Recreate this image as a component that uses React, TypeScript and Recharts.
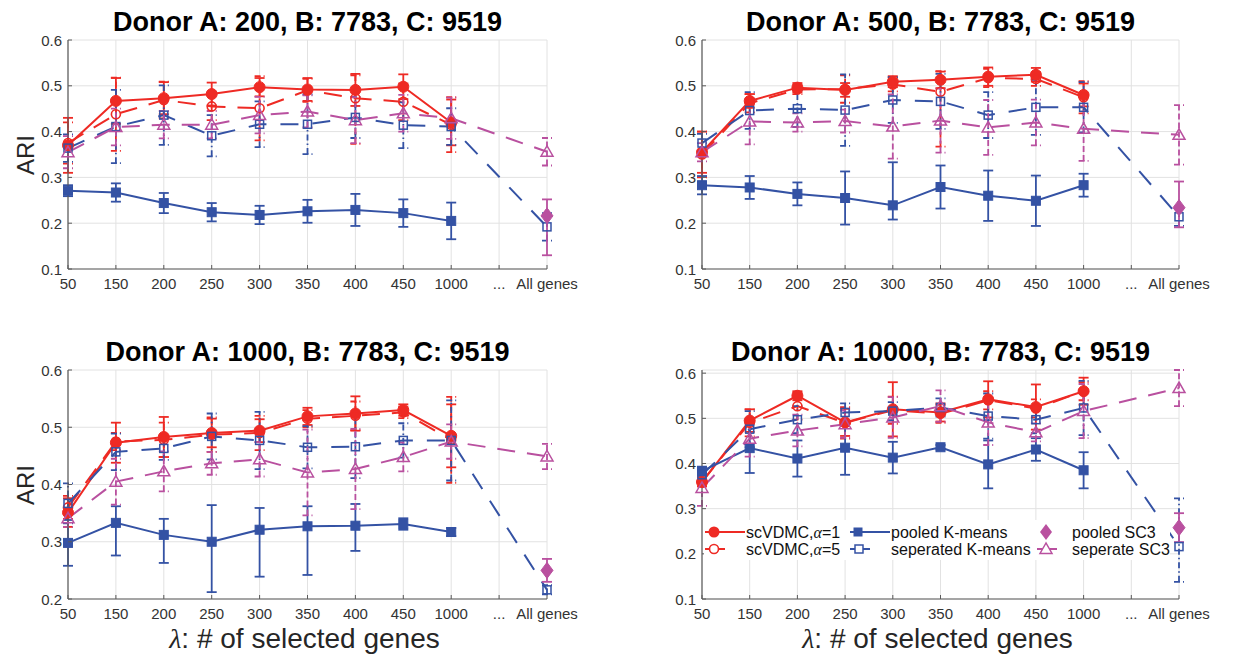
import React from "react";
import { ComposedChart, Line, XAxis, YAxis, CartesianGrid, ErrorBar } from "recharts";

const geneLabels = ["50", "150", "200", "250", "300", "350", "400", "450", "1000", "...", "All genes"];
const donorA = [200, 500, 1000, 10000];
const yTicksFull = [0.1, 0.2, 0.3, 0.4, 0.5, 0.6];
const yTicksShort = [0.2, 0.3, 0.4, 0.5, 0.6];

type Err = number | [number, number] | null;

// one row per panel (Donor A = 200, 500, 1000, 10000); columns follow geneLabels
const scvdmc1: (number | null)[][] = [
  [0.37, 0.467, 0.473, 0.482, 0.497, 0.492, 0.491, 0.498, 0.42],
  [0.355, 0.467, 0.496, 0.491, 0.509, 0.513, 0.52, 0.524, 0.48],
  [0.351, 0.473, 0.483, 0.49, 0.494, 0.519, 0.524, 0.53, 0.485],
  [0.359, 0.495, 0.55, 0.491, 0.52, 0.513, 0.542, 0.525, 0.56],
];
const scvdmc1Err: Err[][] = [
  [0.06, 0.05, 0.035, 0.025, 0.02, 0.025, 0.035, 0.027, 0.05],
  [0.045, 0.015, 0.01, 0.015, 0.012, 0.018, 0.02, 0.015, 0.025],
  [0.025, 0.035, 0.035, 0.025, 0.02, 0.015, 0.03, 0.01, 0.055],
  [0.01, 0.025, 0.01, 0.03, 0.06, 0.02, 0.04, 0.05, 0.03],
];
const scvdmc5: (number | null)[][] = [
  [0.375, 0.438, 0.469, 0.455, 0.451, 0.49, 0.473, 0.465, 0.415],
  [0.35, 0.462, 0.492, 0.493, 0.503, 0.487, 0.517, 0.515, 0.475],
  [0.36, 0.475, 0.478, 0.487, 0.49, 0.515, 0.52, 0.526, 0.478],
  [0.36, 0.49, 0.527, 0.49, 0.518, 0.51, 0.54, 0.522, 0.56],
];
const scvdmc5Err: Err[][] = [
  [0.045, 0.08, 0.04, 0.03, 0.07, 0.025, [0.1, 0.05], 0.04, 0.06],
  [0.05, 0.02, 0.01, 0.03, 0.015, [0.12, 0.045], 0.02, 0.015, 0.035],
  [0.02, 0.015, 0.03, 0.03, 0.03, 0.015, 0.025, 0.01, 0.075],
  [0.01, 0.03, 0.03, 0.035, 0.03, 0.02, 0.02, 0.02, 0.02],
];
const pooledKm: (number | null)[][] = [
  [0.271, 0.267, 0.244, 0.224, 0.218, 0.226, 0.229, 0.222, 0.205],
  [0.283, 0.278, 0.264, 0.255, 0.239, 0.279, 0.26, 0.249, 0.283],
  [0.298, 0.333, 0.312, 0.3, 0.321, 0.327, 0.328, 0.331, 0.317],
  [0.383, 0.434, 0.411, 0.435, 0.413, 0.436, 0.398, 0.431, 0.385],
];
const pooledKmErr: Err[][] = [
  [0.012, 0.02, 0.022, 0.02, 0.02, 0.025, 0.035, 0.03, 0.04],
  [0.02, 0.025, 0.025, 0.058, [0.031, 0.094], 0.047, 0.055, 0.055, 0.025],
  [0.04, [0.057, 0.029], [0.049, 0.028], [0.088, 0.064], [0.082, 0.038], [0.085, 0.035], [0.044, 0.038], 0.01, 0.007],
  [0.01, 0.055, 0.04, 0.06, 0.035, 0.005, 0.053, 0.025, 0.04],
];
const sepKm: (number | null)[][] = [
  [0.364, 0.411, 0.436, 0.391, 0.416, 0.416, 0.431, 0.414, 0.411, null, 0.192],
  [0.375, 0.446, 0.45, 0.447, 0.469, 0.466, 0.436, 0.453, 0.453, null, 0.214],
  [0.367, 0.457, 0.463, 0.484, 0.477, 0.465, 0.466, 0.477, 0.477, null, 0.216],
  [0.375, 0.476, 0.497, 0.513, 0.516, 0.524, 0.505, 0.497, 0.523, null, 0.216],
];
const sepKmErr: Err[][] = [
  [0.03, 0.08, 0.065, 0.045, 0.05, 0.065, 0.045, 0.05, 0.04, null, 0.03],
  [0.02, 0.04, 0.04, 0.078, 0.05, 0.06, 0.05, 0.06, 0.055, null, 0.02],
  [0.035, 0.032, 0.02, 0.04, 0.05, 0.037, 0.055, 0.03, 0.07, null, 0.008],
  [0.015, 0.04, 0.03, 0.02, 0.02, 0.02, 0.05, 0.03, 0.06, null, [0.078, 0.107]],
];
const sepSc3: (number | null)[][] = [
  [0.355, 0.41, 0.415, 0.415, 0.436, 0.444, 0.425, 0.44, 0.429, null, 0.356],
  [0.355, 0.422, 0.42, 0.423, 0.411, 0.424, 0.409, 0.42, 0.406, null, 0.393],
  [0.341, 0.405, 0.423, 0.437, 0.444, 0.421, 0.427, 0.448, 0.475, null, 0.449],
  [0.346, 0.455, 0.473, 0.487, 0.502, 0.527, 0.491, 0.469, 0.516, null, 0.567],
];
const sepSc3Err: Err[][] = [
  [0.035, 0.04, 0.03, 0.03, 0.04, 0.035, 0.05, 0.04, 0.045, null, 0.03],
  [0.02, 0.05, 0.02, 0.025, 0.07, 0.07, 0.06, 0.05, 0.07, null, 0.065],
  [0.015, 0.04, 0.035, 0.02, 0.03, 0.075, 0.07, 0.025, 0.03, null, 0.022],
  [0.04, 0.04, 0.035, 0.03, 0.045, 0.035, 0.05, 0.02, 0.06, null, 0.04],
];
// pooled SC3 only has the "All genes" point
const pooledSc3 = [0.216, 0.234, 0.25, 0.258];
const pooledSc3Err: Err[] = [[0.086, 0.036], [0.043, 0.057], 0.02, 0.032];

const RED = "#ee2a24";
const BLUE = "#3452a4";
const MAG = "#b9509f";
const AXIS = "#5a5a5a";
const TICK = "#333";
const FONT = "'Liberation Sans', Arial, Helvetica, sans-serif";
const PLOT_TOP = 40;
const PLOT_BOTTOM = 269;

function buildRows(p: number) {
  return geneLabels.map((_, i) => ({
    i,
    a1: scvdmc1[p][i] ?? null,
    a1e: scvdmc1Err[p][i] ?? null,
    a5: scvdmc5[p][i] ?? null,
    a5e: scvdmc5Err[p][i] ?? null,
    pk: pooledKm[p][i] ?? null,
    pke: pooledKmErr[p][i] ?? null,
    sk: sepKm[p][i] ?? null,
    ske: sepKmErr[p][i] ?? null,
    ss: sepSc3[p][i] ?? null,
    sse: sepSc3Err[p][i] ?? null,
    ps: i === 10 ? pooledSc3[p] : null,
    pse: i === 10 ? pooledSc3Err[p] : null,
  }));
}

const hidden = (p: any) => p.cx == null || p.cy == null || p.value == null;

const filledCircle = (p: any) =>
  hidden(p) ? <g key={p.index} /> : <circle key={p.index} cx={p.cx} cy={p.cy} r={5.5} fill={RED} stroke={RED} />;
const openCircle = (p: any) =>
  hidden(p) ? <g key={p.index} /> : <circle key={p.index} cx={p.cx} cy={p.cy} r={4.5} fill="none" stroke={RED} strokeWidth={1.6} />;
const filledSquare = (p: any) =>
  hidden(p) ? <g key={p.index} /> : <rect key={p.index} x={p.cx - 4.5} y={p.cy - 4.5} width={9} height={9} fill={BLUE} stroke={BLUE} />;
const openSquare = (p: any) =>
  hidden(p) ? <g key={p.index} /> : <rect key={p.index} x={p.cx - 4} y={p.cy - 4} width={8} height={8} fill="none" stroke={BLUE} strokeWidth={1.5} />;
const openTriangle = (p: any) =>
  hidden(p) ? (
    <g key={p.index} />
  ) : (
    <polygon key={p.index} points={`${p.cx},${p.cy - 6} ${p.cx - 6},${p.cy + 4.5} ${p.cx + 6},${p.cy + 4.5}`} fill="none" stroke={MAG} strokeWidth={1.5} />
  );
const diamond = (p: any) =>
  hidden(p) ? (
    <g key={p.index} />
  ) : (
    <polygon key={p.index} points={`${p.cx},${p.cy - 8} ${p.cx + 6},${p.cy} ${p.cx},${p.cy + 8} ${p.cx - 6},${p.cy}`} fill={MAG} stroke={MAG} />
  );

function Panel({ p, left, top, width, plotLeft, plotRight }: any) {
  const rows = buildRows(p);
  const yTicks = p === 2 ? yTicksShort : yTicksFull;
  const xTick = (t: any) => (
    <g>
      <line x1={t.x} x2={t.x} y1={PLOT_BOTTOM} y2={PLOT_BOTTOM - 4} stroke={AXIS} />
      <text x={t.x} y={PLOT_BOTTOM + 20} textAnchor="middle" fontSize={15} fill={TICK} fontFamily={FONT}>
        {geneLabels[t.payload.value]}
      </text>
    </g>
  );
  const yTick = (t: any) => (
    <g>
      <line x1={plotLeft} x2={plotLeft + 4} y1={t.y} y2={t.y} stroke={AXIS} />
      <text x={plotLeft - 6} y={t.y + 5.5} textAnchor="end" fontSize={15} fill={TICK} fontFamily={FONT}>
        {Number(t.payload.value).toFixed(1)}
      </text>
    </g>
  );
  return (
    <div style={{ position: "absolute", left, top }}>
      <ComposedChart
        width={width}
        height={330}
        data={rows}
        margin={{ top: PLOT_TOP, right: width - plotRight, bottom: 330 - PLOT_BOTTOM - 30, left: 0 }}
      >
        <CartesianGrid stroke="#e2e2e2" strokeWidth={1} />
        <XAxis
          type="number"
          dataKey="i"
          domain={[0, 10]}
          ticks={[0, 1, 2, 3, 4, 5, 6, 7, 8, 9, 10]}
          interval={0}
          height={30}
          axisLine={{ stroke: AXIS, strokeWidth: 1.2 }}
          tickLine={false}
          tick={xTick}
        />
        <YAxis
          type="number"
          domain={[yTicks[0], 0.6]}
          ticks={yTicks}
          interval={0}
          width={plotLeft}
          axisLine={{ stroke: AXIS, strokeWidth: 1.2 }}
          tickLine={false}
          tick={yTick}
        />
        <Line dataKey="a1" stroke={RED} strokeWidth={2} dot={filledCircle} activeDot={false} isAnimationActive={false}>
          <ErrorBar dataKey="a1e" direction="y" width={5} stroke={RED} strokeWidth={1.8} />
        </Line>
        <Line dataKey="a5" stroke={RED} strokeWidth={2} strokeDasharray="18 12" dot={openCircle} activeDot={false} isAnimationActive={false}>
          <ErrorBar dataKey="a5e" direction="y" width={5} stroke={RED} strokeWidth={1.8} strokeDasharray="6 3" />
        </Line>
        <Line dataKey="pk" stroke={BLUE} strokeWidth={2} dot={filledSquare} activeDot={false} isAnimationActive={false}>
          <ErrorBar dataKey="pke" direction="y" width={5} stroke={BLUE} strokeWidth={1.8} />
        </Line>
        <Line dataKey="sk" stroke={BLUE} strokeWidth={2} strokeDasharray="18 14" connectNulls dot={openSquare} activeDot={false} isAnimationActive={false}>
          <ErrorBar dataKey="ske" direction="y" width={5} stroke={BLUE} strokeWidth={1.8} strokeDasharray="6 3 1.5 3" />
        </Line>
        <Line dataKey="ps" stroke="none" dot={diamond} activeDot={false} isAnimationActive={false}>
          <ErrorBar dataKey="pse" direction="y" width={5} stroke={MAG} strokeWidth={1.8} />
        </Line>
        <Line dataKey="ss" stroke={MAG} strokeWidth={2} strokeDasharray="18 12" connectNulls dot={openTriangle} activeDot={false} isAnimationActive={false}>
          <ErrorBar dataKey="sse" direction="y" width={5} stroke={MAG} strokeWidth={1.8} strokeDasharray="6 3" />
        </Line>
      </ComposedChart>
    </div>
  );
}

const alphaText = (v: number) => (
  <>
    scVDMC,
    <tspan fontFamily="'Liberation Serif', serif" fontStyle="italic">
      α
    </tspan>
    ={v}
  </>
);

function Legend() {
  const r1 = 532;
  const r2 = 549;
  return (
    <g fontFamily={FONT} fontSize={16} fill="#111">
      <rect x={704} y={520} width={466} height={40} fill="#fff" />
      <line x1={705} x2={745} y1={r1} y2={r1} stroke={RED} strokeWidth={2} />
      <circle cx={714} cy={r1} r={5.5} fill={RED} />
      <text x={746} y={r1 + 5.7}>{alphaText(1)}</text>
      <line x1={705} x2={725} y1={r2} y2={r2} stroke={RED} strokeWidth={2} />
      <circle cx={714} cy={r2} r={4.5} fill="#fff" stroke={RED} strokeWidth={1.6} />
      <text x={746} y={r2 + 5.7}>{alphaText(5)}</text>

      <line x1={850} x2={890} y1={r1} y2={r1} stroke={BLUE} strokeWidth={2} />
      <rect x={853.5} y={r1 - 4.5} width={9} height={9} fill={BLUE} />
      <text x={891} y={r1 + 5.7}>pooled K-means</text>
      <line x1={850} x2={870} y1={r2} y2={r2} stroke={BLUE} strokeWidth={2} />
      <rect x={855} y={r2 - 4} width={8} height={8} fill="#fff" stroke={BLUE} strokeWidth={1.5} />
      <text x={891} y={r2 + 5.7}>seperated K-means</text>

      <polygon points={`1046,${r1 - 8} 1052,${r1} 1046,${r1 + 8} 1040,${r1}`} fill={MAG} />
      <text x={1072} y={r1 + 5.7}>pooled SC3</text>
      <line x1={1037} x2={1057} y1={r2} y2={r2} stroke={MAG} strokeWidth={2} />
      <polygon points={`1046,${r2 - 6} 1040,${r2 + 4.5} 1052,${r2 + 4.5}`} fill="#fff" stroke={MAG} strokeWidth={1.5} />
      <text x={1072} y={r2 + 5.7}>seperate SC3</text>
    </g>
  );
}

export default function App() {
  const centers = [307.5, 940.5];
  return (
    <div style={{ position: "absolute", left: 0, top: 0, width: 1243, height: 657, background: "#fff", fontFamily: FONT }}>
      <Panel p={0} left={0} top={0} width={620} plotLeft={68} plotRight={547} />
      <Panel p={1} left={620} top={0} width={623} plotLeft={82} plotRight={559} />
      <Panel p={2} left={0} top={330} width={620} plotLeft={68} plotRight={547} />
      <Panel p={3} left={620} top={330} width={623} plotLeft={82} plotRight={559} />
      <svg width={1243} height={657} style={{ position: "absolute", left: 0, top: 0, pointerEvents: "none" }}>
        {donorA.map((a, k) => (
          <text
            key={a}
            x={centers[k % 2]}
            y={k < 2 ? 31 : 361}
            textAnchor="middle"
            fontSize={27}
            fontWeight="bold"
            fontFamily={FONT}
            fill="#000"
          >
            {`Donor A: ${a}, B: 7783, C: 9519`}
          </text>
        ))}
        {[155, 485].map((cy) => (
          <text key={cy} transform={`translate(34,${cy}) rotate(-90)`} textAnchor="middle" fontSize={24} fontFamily={FONT} fill="#262626">
            ARI
          </text>
        ))}
        {centers.map((cx) => (
          <text key={cx} x={cx - 3} y={648} textAnchor="middle" fontSize={28} fontFamily={FONT} fill="#262626">
            <tspan fontFamily="'Liberation Serif', serif" fontStyle="italic">
              λ
            </tspan>
            : # of selected genes
          </text>
        ))}
        <Legend />
      </svg>
    </div>
  );
}
